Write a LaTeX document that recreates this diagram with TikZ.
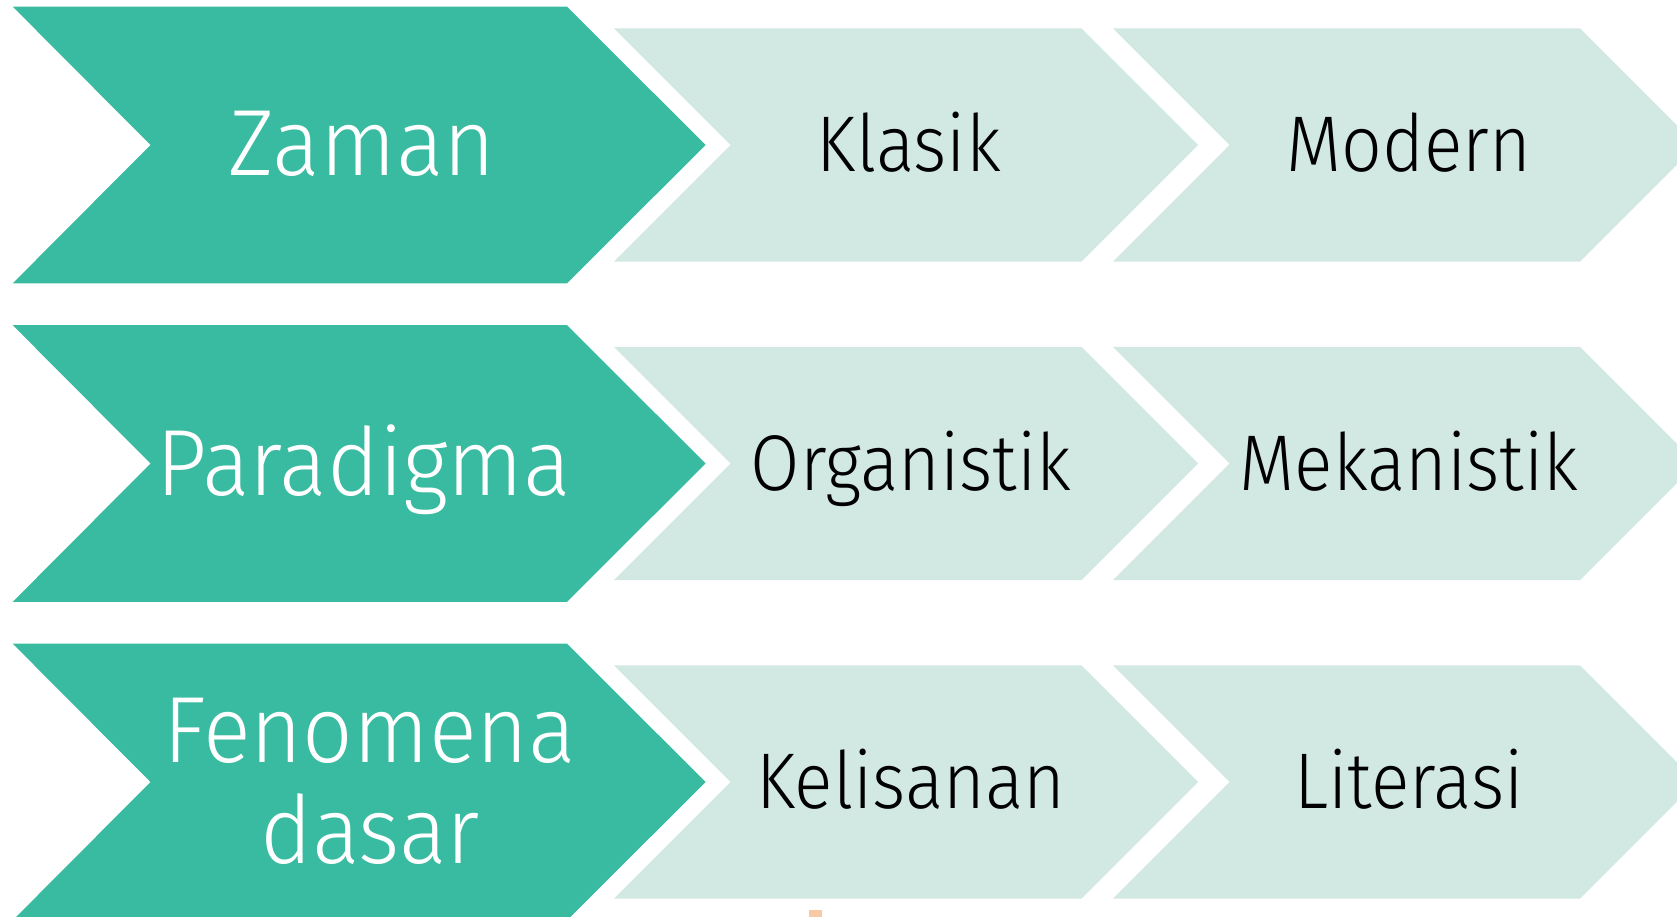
\documentclass[tikz,border=0pt]{standalone}
\usepackage{fontspec}
\setmainfont{Fira Sans Light}
\newfontfamily\headfont{Fira Sans Light}[FakeStretch=0.945]
\newfontfamily\itemfont{Fira Sans Light}[FakeStretch=0.905]
\definecolor{teal}{HTML}{38BBA1}
\definecolor{mint}{HTML}{D2E8E2}
\definecolor{speck}{HTML}{F8C9A2}
\begin{document}
\begin{tikzpicture}[x=1pt,y=-1pt,
  headtext/.style={text=white,inner sep=0pt,align=center,font=\headfont\fontsize{94}{101}\selectfont},
  itemtext/.style={text=black,inner sep=0pt,font=\itemfont\fontsize{79}{85}\selectfont}]
\useasboundingbox (0,0) rectangle (1677,917);
\clip (0,0) rectangle (1677,917);
\fill[white] (0,0) rectangle (1677,917);
% three rows of chevrons: one dark heading, two light items
\foreach \cy in {145,463.5,782}{
  \fill[teal] (12.8,\cy-138.3) -- (567,\cy-138.3) -- (705.6,\cy) -- (567,\cy+138.3)
     -- (12.8,\cy+138.3) -- (150.5,\cy) -- cycle;
  \fill[mint] (614,\cy-116.7) -- (1081.5,\cy-116.7) -- (1198.2,\cy) -- (1081.5,\cy+116.7)
     -- (614,\cy+116.7) -- (730.6,\cy) -- cycle;
  \fill[mint] (1113,\cy-116.7) -- (1580,\cy-116.7) -- (1696.7,\cy) -- (1580,\cy+116.7)
     -- (1113,\cy+116.7) -- (1229.5,\cy) -- cycle;
}
% labels
\node[headtext,anchor=base] (zaman) at (362,176) {Zaman};
\node[headtext,anchor=base] (paradigma) at (364,495) {Paradigma};
\node[headtext,anchor=center] (fenomena) at (370,781) {Fenomena\\dasar};
\node[itemtext,anchor=base] (klasik) at (909,172) {Klasik};
\node[itemtext,anchor=base] (modern) at (1409,172) {Modern};
\node[itemtext,anchor=base] (organistik) at (911,490) {Organistik};
\node[itemtext,anchor=base] (mekanistik) at (1409,490) {Mekanistik};
\node[itemtext,anchor=base] (kelisanan) at (911,808) {Kelisanan};
\node[itemtext,anchor=base] (literasi) at (1409,808) {Literasi};
% small speck at the bottom edge
\fill[speck] (809,910) rectangle (822,917);
\end{tikzpicture}
\end{document}
